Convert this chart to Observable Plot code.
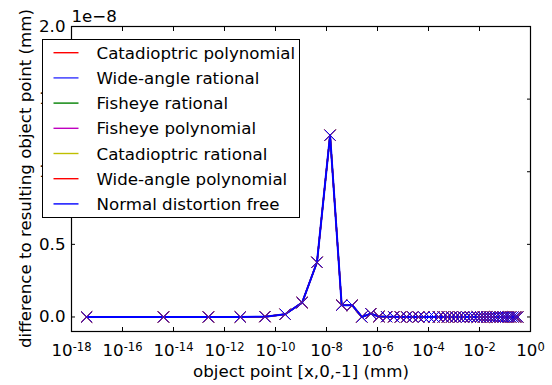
<!DOCTYPE html>
<html>
<head>
<meta charset="utf-8">
<script src="https://cdn.jsdelivr.net/npm/d3@7"></script>
<script src="https://cdn.jsdelivr.net/npm/@observablehq/plot@0.6"></script>
<style>
  html, body { margin: 0; padding: 0; background: white; }
  #chart svg { display: block; }
</style>
</head>
<body>
<div id="chart"></div>
<script>
// ---- data ----
const seriesNames = [
  "Catadioptric polynomial",
  "Wide-angle rational",
  "Fisheye rational",
  "Fisheye polynomial",
  "Catadioptric rational",
  "Wide-angle polynomial",
  "Normal distortion free"
];
const seriesColors = ["#ff0000", "#3333ff", "#008000", "#bf00bf", "#bfbf00", "#ff0000", "#0000ff"];

// object point x (mm)
const xValues = [
  3.94e-18, 4.04e-15, 2.33e-13, 4.14e-12, 3.85e-11, 2.39e-10, 1.11e-9, 4.24e-9, 1.38e-8, 3.94e-8,
  1.02e-7, 2.44e-7, 5.45e-7, 1.14e-6, 2.28e-6, 4.35e-6, 7.96e-6, 1.41e-5, 2.42e-5, 4.05e-5,
  6.59e-5, 1.05e-4, 1.64e-4, 2.50e-4, 3.77e-4, 5.57e-4, 8.13e-4, 1.17e-3, 1.66e-3, 2.33e-3,
  3.24e-3, 4.45e-3, 6.04e-3, 8.15e-3, 1.09e-2, 1.44e-2, 1.90e-2, 2.48e-2, 3.21e-2, 4.14e-2,
  5.30e-2, 6.75e-2, 8.53e-2, 0.107, 0.134, 0.167, 0.207, 0.256, 0.315
];
// difference (mm), same for every model
const yValues = [
  0, 0, 0, 0, 0.002e-8, 0.019e-8, 0.099e-8, 0.377e-8, 1.252e-8, 0.081e-8,
  0.081e-8, 0.0, 0.023e-8, 0.003e-8, 0.002e-8, 0.001e-8, 0, 0, 0, 0,
  0, 0, 0, 0, 0, 0, 0, 0, 0, 0,
  0, 0, 0, 0, 0, 0, 0, 0, 0, 0,
  0, 0, 0, 0, 0, 0, 0, 0, 0
];

const xTicks = [1e-18, 1e-16, 1e-14, 1e-12, 1e-10, 1e-8, 1e-6, 1e-4, 1e-2, 1e0];
const yTicks = [0, 0.5e-8, 1.0e-8, 1.5e-8, 2.0e-8];
const xLabel = "object point [x,0,-1] (mm)";
const yLabel = "difference to resulting object point (mm)";
const offsetLabel = "1e\u22128";

const data = [];
seriesNames.forEach((s) => {
  xValues.forEach((x, i) => data.push({series: s, x, y: yValues[i]}));
});
const lastName = seriesNames[seriesNames.length - 1];

const FS = 16.67;
const W = 552, H = 385, ML = 71, MR = 22, MT = 26, MB = 54;

const svg = Plot.plot({
  width: W,
  height: H,
  marginLeft: ML,
  marginRight: MR,
  marginTop: MT,
  marginBottom: MB,
  style: {fontFamily: "DejaVu Sans", fontSize: FS + "px", background: "white", color: "black", overflow: "visible"},
  x: {type: "log", domain: [1e-18, 1]},
  y: {domain: [-0.1e-8, 2.0e-8]},
  color: {domain: seriesNames, range: seriesColors},
  marks: [
    Plot.line(data, {x: "x", y: "y", z: "series", stroke: "series", strokeWidth: d => d.series === lastName ? 2 : 1.4}),
    Plot.dot(data, {x: "x", y: "y", stroke: "series", symbol: "times", r: 5, strokeWidth: 1}),
    Plot.frame({stroke: "black", strokeWidth: 1.2}),
    Plot.axisX({ticks: xTicks, tickSize: -4, tickPadding: 17, tickFormat: d => String(Math.round(Math.log10(d))), label: null, fontSize: FS}),
    Plot.axisX({anchor: "top", ticks: xTicks, tickSize: -4, tickFormat: () => "", label: null}),
    Plot.axisY({ticks: yTicks, tickSize: -4, tickPadding: 10, tickFormat: d => (d / 1e-8).toFixed(1), label: null, fontSize: FS}),
    Plot.axisY({anchor: "right", ticks: yTicks, tickSize: -4, tickFormat: () => "", label: null}),
    Plot.text([xLabel], {text: d => d, frameAnchor: "bottom", dy: 45, fontSize: FS}),
    Plot.text([offsetLabel], {text: d => d, frameAnchor: "top-left", dy: -5, textAnchor: "start", lineAnchor: "bottom", fontSize: FS})
  ]
});

const root = d3.select(svg);

// superscript exponents on x tick labels
root.selectAll('g[aria-label="x-axis tick label"] text').each(function() {
  const t = d3.select(this);
  const e = t.text();
  if (e === "") return;
  t.text(null);
  t.append("tspan").text("10");
  t.append("tspan").attr("dy", "-0.45em").attr("font-size", "11.5px").text(e);
});

// y axis title (rotated)
root.append("text")
  .attr("transform", `translate(25,${MT + (H - MT - MB) / 2}) rotate(-90)`)
  .attr("text-anchor", "middle").attr("dy", "0.35em")
  .attr("font-family", "DejaVu Sans").attr("font-size", FS).attr("fill", "black")
  .text(yLabel);

// legend
const lg = root.append("g").attr("font-family", "DejaVu Sans").attr("font-size", FS).attr("text-anchor", "start");
const lx = 42.5, ly = 39.5, lw = 257, lh = 178, rowH = 25.2, row0 = 13.2;
lg.append("rect").attr("x", lx).attr("y", ly).attr("width", lw).attr("height", lh)
  .attr("fill", "white").attr("stroke", "black").attr("stroke-width", 1);
seriesNames.forEach((s, i) => {
  const cy = ly + row0 + i * rowH;
  lg.append("line").attr("x1", lx + 11).attr("x2", lx + 36).attr("y1", cy).attr("y2", cy)
    .attr("stroke", seriesColors[i]).attr("stroke-width", 1.4);
  lg.append("text").attr("x", lx + 54).attr("y", cy).attr("dy", "0.36em").attr("fill", "black")
    .attr("text-anchor", "start").text(s);
});

document.getElementById("chart").appendChild(svg);
</script>
</body>
</html>
